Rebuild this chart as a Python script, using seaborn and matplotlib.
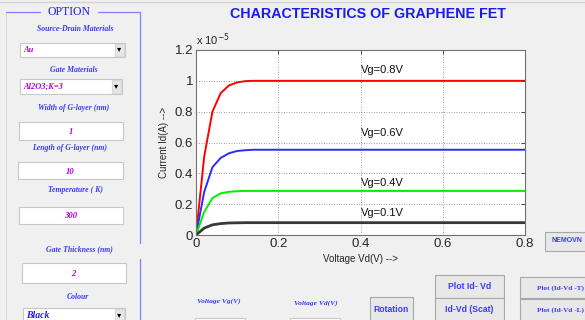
import numpy as np
import pandas as pd
import seaborn as sns
import matplotlib.pyplot as plt
from matplotlib.patches import Rectangle
from matplotlib.ticker import FuncFormatter

# drain voltage samples (V) and drain current (units of 1e-5 A)
vd = [0, 0.02, 0.04, 0.06, 0.08, 0.10, 0.12, 0.14, 0.16, 0.8]
id_vg08 = [0, 0.51, 0.80, 0.92, 0.97, 0.99, 0.998, 1.0, 1.0, 1.0]
id_vg06 = [0, 0.28, 0.44, 0.50, 0.53, 0.545, 0.55, 0.553, 0.553, 0.553]
id_vg04 = [0, 0.15, 0.24, 0.27, 0.28, 0.284, 0.286, 0.286, 0.286, 0.286]
id_vg01 = [0, 0.045, 0.066, 0.074, 0.078, 0.079, 0.08, 0.08, 0.08, 0.08]
vg_labels = ['Vg=0.8V', 'Vg=0.6V', 'Vg=0.4V', 'Vg=0.1V']
label_y = [1.07, 0.66, 0.34, 0.14]

xticks = [0, 0.2, 0.4, 0.6, 0.8]
yticks = [0, 0.2, 0.4, 0.6, 0.8, 1.0, 1.2]

df = pd.DataFrame({
    'Vd': vd * 4,
    'Id': id_vg08 + id_vg06 + id_vg04 + id_vg01,
    'Vg': [lab for lab in vg_labels for _ in vd],
})
palette = {'Vg=0.8V': '#ff0000', 'Vg=0.6V': '#2b2bff',
           'Vg=0.4V': '#00ee00', 'Vg=0.1V': '#383838'}

sns.set_style('white')
plt.rcParams['font.family'] = ['Liberation Sans', 'DejaVu Sans']

W, H = 585, 320
fig = plt.figure(figsize=(W / 100, H / 100), dpi=100)
fig.patch.set_facecolor('#f0f0f0')

# ---- GUI background layer in pixel coordinates ----
bg = fig.add_axes([0, 0, 1, 1])
bg.set_xlim(0, W)
bg.set_ylim(H, 0)
bg.axis('off')

blue = '#3a3aff'
mag = '#b000e8'
serif = ['Liberation Serif', 'DejaVu Serif']

bg.plot([0, W], [1.5, 1.5], color='#d4d4d4', lw=1)
# OPTION group box
bg.plot([6, 6], [12, 320], color='#d8d8d8', lw=0.8)
bg.plot([6, 40], [12, 12], color='#8080ff', lw=0.9)
bg.plot([98, 140], [12, 12], color='#8080ff', lw=0.9)
bg.plot([140, 140], [12, 243], color='#8080ff', lw=0.9)
bg.plot([140, 140], [259, 320], color='#8080ff', lw=0.9)
bg.text(69, 12, 'OPTION', ha='center', va='center', color='#2020e0',
        fontsize=8.5, family=serif)


def box(x, y, w, h, fc='white', ec='#c8c8c8'):
    bg.add_patch(Rectangle((x, y), w, h, facecolor=fc, edgecolor=ec, lw=0.8))


def label(x, y, s, size=5.6, color=blue, ha='center'):
    bg.text(x, y, s, ha=ha, va='center', color=color, fontsize=size,
            family=serif, style='italic', fontweight='bold')


def dropdown(x, y, w, h, s, color=mag, size=6):
    box(x, y, w, h)
    box(x + w - 10, y + 1, 9, h - 2, fc='#e6e6e6', ec='#d8d8d8')
    bg.text(x + w - 5.5, y + h / 2, '\u25be', ha='center', va='center',
            fontsize=6, color='black')
    label(x + 3, y + h / 2, s, size=size, color=color, ha='left')


def button(x, y, w, h, s, size=6.2, fam=None):
    box(x, y, w, h, fc='#e8e8e8', ec='#a8a8a8')
    kw = dict(family=fam) if fam else {}
    bg.text(x + w / 2, y + h / 2, s, ha='center', va='center', color=blue,
            fontsize=size, fontweight='bold', **kw)


label(75, 29, 'Source-Drain Materials')
dropdown(20, 43, 105, 14, 'Au')
label(74, 70, 'Gate Materials')
dropdown(20, 79, 102, 15, 'Al2O3;K=3')
label(74, 108, 'Width of G-layer (nm)')
box(19, 122, 104, 18)
label(71, 132, '1', size=6.2, color=mag)
label(70, 148, 'Length of G-layer (nm)')
box(18, 162, 105, 17)
label(70, 172, '10', size=6.2, color=mag)
label(76, 190, 'Temperature ( K)')
box(19, 207, 104, 17)
label(71, 216, '300', size=6.2, color=mag)
label(79, 249, 'Gate Thickness (nm)')
box(22, 263, 104, 20)
label(73, 274, '2', size=6.2, color=mag)
label(78, 297, 'Colour')
dropdown(23, 308, 102, 16, 'Black', color='#2020e0', size=7)

label(219, 301, 'Voltage Vg(V)', size=5.4)
label(316, 303, 'Voltage Vd(V)', size=5.4)
box(195, 318, 50, 6)
box(290, 318, 50, 6)
button(370, 297, 43, 25, 'Rotation')
button(435, 275, 69, 23, 'Plot Id- Vd')
button(435, 298, 69, 24, 'Id-Vd (Scat)')
box(520, 277, 70, 21, fc='#e8e8e8', ec='#a8a8a8')
box(520, 299, 70, 23, fc='#e8e8e8', ec='#a8a8a8')
bg.text(537, 288, 'Plot (Id-Vd -T)', ha='left', va='center', color=blue,
        fontsize=5.2, fontweight='bold', family=serif)
bg.text(537, 310, 'Plot (Id-Vd -L)', ha='left', va='center', color=blue,
        fontsize=5.2, fontweight='bold', family=serif)
box(545, 232, 45, 19, fc='#e8e8e8', ec='#a8a8a8')
bg.text(551, 241, 'NEMOVN', ha='left', va='center', color=blue,
        fontsize=5.0, fontweight='bold')

fig.text(368 / W, 1 - 14 / H, 'CHARACTERISTICS OF GRAPHENE FET',
         ha='center', va='center', color='#1a1aee', fontsize=10.3,
         fontweight='bold')

# ---- chart ----
ax = fig.add_axes([196 / W, 1 - 235 / H, (525 - 196) / W, (235 - 50) / H])
ax.set_facecolor('white')
for lab in vg_labels:
    sub = df[df['Vg'] == lab]
    sns.lineplot(data=sub, x='Vd', y='Id', color=palette[lab],
                 lw=2.0 if lab == 'Vg=0.1V' else 1.4, ax=ax,
                 estimator=None, sort=False, legend=False)
for lab, y in zip(vg_labels, label_y):
    ax.text(0.4, y, lab, fontsize=8, ha='left', va='center', color='#111111')

ax.set_xlim(0, 0.8)
ax.set_ylim(0, 1.2)
ax.set_xticks(xticks)
ax.set_yticks(yticks)
fmt = FuncFormatter(lambda v, p: f'{v:g}')
ax.xaxis.set_major_formatter(fmt)
ax.yaxis.set_major_formatter(fmt)
ax.tick_params(direction='in', length=3, width=0.6, labelsize=9.5,
               top=True, right=True, pad=2, color='#333333')
ax.grid(True, linestyle=(0, (1, 2)), color='#808080', lw=0.6)
for s in ax.spines.values():
    s.set_color('#707070')
    s.set_linewidth(0.8)
ax.set_xlabel('Voltage Vd(V) -->', fontsize=7, labelpad=3)
ax.set_ylabel('Current Id(A) -->', fontsize=7, labelpad=4)
ax.text(0.0, 1.01, r'x 10$^{-5}$', transform=ax.transAxes, fontsize=8,
        ha='left', va='bottom')

fig.savefig('out.png', dpi=100, facecolor=fig.get_facecolor())
